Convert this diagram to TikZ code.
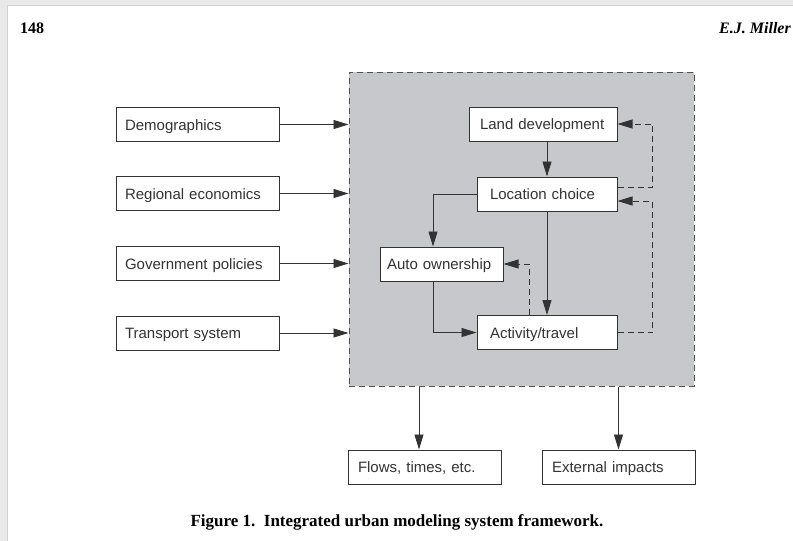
\documentclass[tikz,border=0pt]{standalone}
\usepackage{fontspec}
\setmainfont{Liberation Serif}
\setsansfont{Liberation Sans}
\usetikzlibrary{arrows.meta}
\definecolor{ink}{HTML}{333333}
\definecolor{coregray}{HTML}{C7C8CC}
\definecolor{frame}{HTML}{E9E9E9}
\begin{document}
\begin{tikzpicture}[x=1pt,y=-1pt,
  box/.style={draw=ink, line width=1pt, fill=white, font=\sffamily\fontsize{15}{17}\selectfont,
    text=ink, align=left, minimum height=34pt, inner ysep=0pt, text height=12pt, text depth=1pt},
  arr/.style={draw=ink, line width=0.9pt, -{Triangle[length=15pt,width=9pt]}},
  darr/.style={arr, dash pattern=on 6pt off 4pt},
  corebox/.style={draw=ink!85, fill=coregray, line width=1pt, dash pattern=on 6pt off 4pt},
  hdr/.style={font=\bfseries\fontsize{16}{18}\selectfont, text=black, inner sep=0pt}]
\useasboundingbox (0,0) rectangle (793,541);
\fill[frame] (0,0) rectangle (793,541);
\fill[white] (7,5) rectangle (793,541);
\draw[black!18, line width=0.6pt] (7,541) -- (7,5) -- (793,5);

\node[hdr, anchor=base west] (pg) at (20,33) {148};
\node[hdr, anchor=base east] (au) at (791,33) {\itshape E.J. Miller};

\node[corebox, minimum width=345pt, minimum height=314pt, inner sep=0pt] (core) at (521.5,229) {};

\node[box, inner xsep=9pt, text width=145pt] (demo) at (197.5,124.5) {Demographics};
\node[box, inner xsep=9pt, text width=145pt] (reg) at (197.5,193.5) {Regional economics};
\node[box, inner xsep=9pt, text width=145pt] (gov) at (197.5,263.5) {Government policies};
\node[box, inner xsep=9pt, text width=145pt] (trans) at (197.5,333) {Transport system};

\node[box, inner xsep=11pt, text width=126pt] (land) at (543,124) {Land development};
\node[box, inner xsep=13pt, text width=114pt] (loc) at (547,194) {Location choice};
\node[box, inner xsep=7pt, text width=109pt] (auto) at (441.5,264) {Auto ownership};
\node[box, inner xsep=13pt, text width=114pt] (act) at (547,332.5) {Activity/travel};

\node[box, inner xsep=10pt, text width=133pt] (flows) at (424.5,467) {Flows, times, etc.};
\node[box, inner xsep=10pt, text width=133pt] (ext) at (618.5,467) {External impacts};

\node[font=\bfseries\fontsize{17}{19}\selectfont, anchor=base] (cap) at (397,526) {Figure 1.\ \ Integrated urban modeling system framework.};

% inputs
\foreach \n in {demo,reg,gov,trans}
  \draw[arr] (\n.east) -- (core.west |- \n.east);

% outputs
\draw[arr] ([xshift=-5.5pt]flows.north |- core.south) -- ([xshift=-5.5pt]flows.north);
\draw[arr] (ext.north |- core.south) -- (ext.north);

% internal
\draw[arr] (loc.north |- land.south) -- (loc.north);
\draw[arr] (loc.west) -| ([xshift=-8.5pt]auto.north);
\draw[arr] (loc.south) -- (act.north);
\draw[arr] ([xshift=-8.5pt]auto.south) |- (act.west);
\draw[darr] ([xshift=-18pt]act.north) |- (auto.east);
\draw[darr] (act.east) -- ++(35,0) |- ([yshift=-7pt]loc.east);
\draw[darr] ([yshift=7pt]loc.east) -- ++(35,0) |- (land.east);
\end{tikzpicture}
\end{document}
